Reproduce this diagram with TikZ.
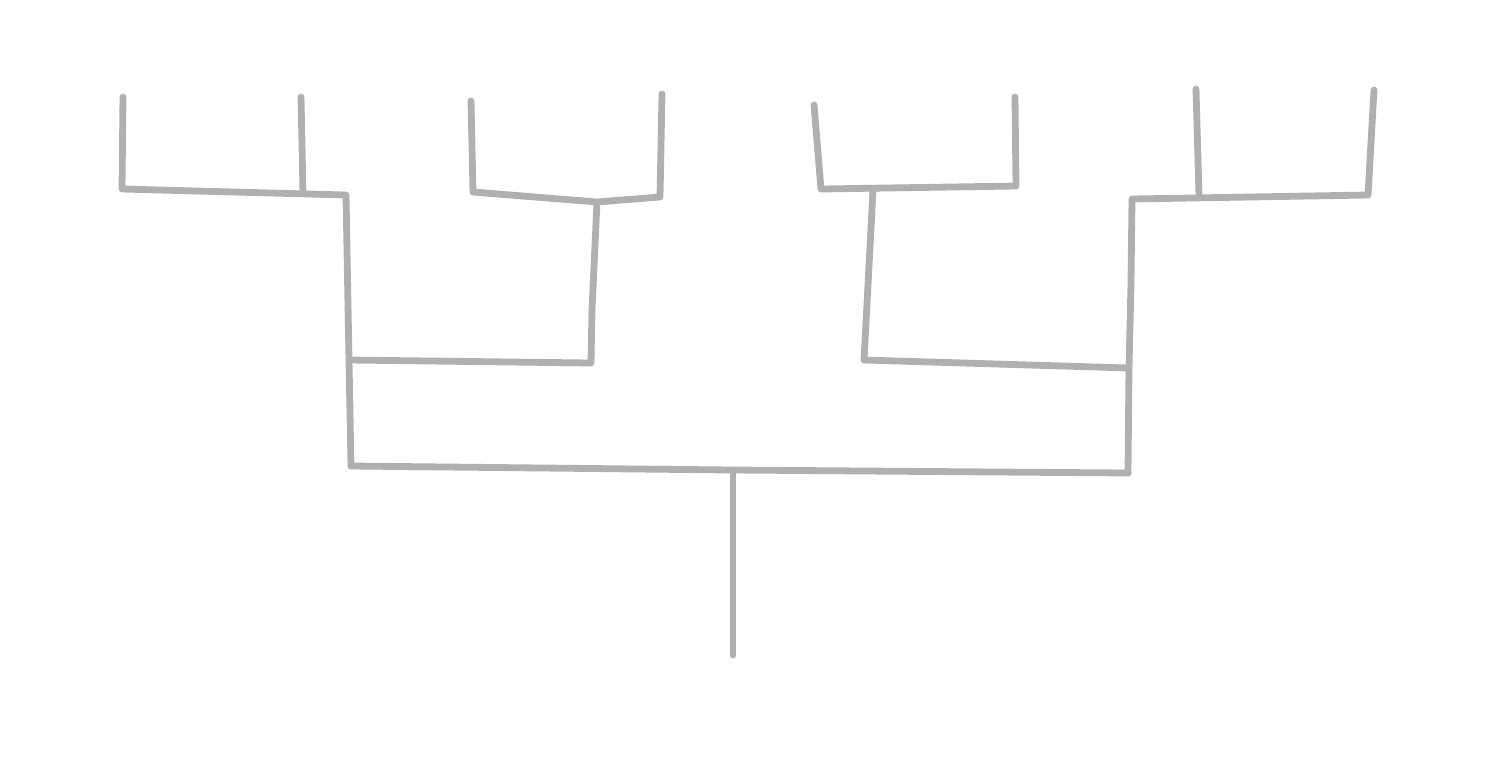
\documentclass[tikz,border=0pt]{standalone}
\begin{document}
\begin{tikzpicture}[x=0.5pt,y=-0.5pt,
  br/.style={draw=black!31,line width=3.4pt,line cap=round,line join=round}]
\useasboundingbox[fill=white] (0,0) rectangle (1500,768);
% coordinates
\coordinate (l1) at (123,97);   \coordinate (b1) at (122,189);
\coordinate (l2) at (301,97);   \coordinate (b2) at (303,193);
\coordinate (j1) at (346,195);
\coordinate (m1) at (349,360);  \coordinate (r1) at (351,466);
\coordinate (l3) at (471,101);  \coordinate (b3) at (473,192);
\coordinate (j2) at (597,202);
\coordinate (l4) at (662,94);   \coordinate (b4) at (660,197);
\coordinate (k2) at (592,310);  \coordinate (m2) at (591,363);
\coordinate (c) at (733,470);   \coordinate (root) at (733,655);
\coordinate (l5) at (814,105);  \coordinate (b5) at (821,189);
\coordinate (l6) at (1015,97);  \coordinate (b6) at (1016,186);
\coordinate (j3) at (873,190);  \coordinate (k3) at (868,285);
\coordinate (m3) at (864,360);
\coordinate (l7) at (1196,89);  \coordinate (b7) at (1199,196);
\coordinate (l8) at (1374,90);  \coordinate (b8) at (1368,195);
\coordinate (j4) at (1132,199); \coordinate (k4) at (1131,283);
\coordinate (m4) at (1129,368); \coordinate (r2) at (1128,473);
% left subtree
\draw[br] (l1) -- (b1) -- (j1) -- (m1) -- (r1);
\draw[br] (l2) -- (b2);
\draw[br] (l3) -- (b3) -- (j2) -- (b4) -- (l4);
\draw[br] (j2) -- (k2) -- (m2) -- (m1);
% right subtree
\draw[br] (l5) -- (b5) -- (b6) -- (l6);
\draw[br] (j3) -- (k3) -- (m3) -- (m4);
\draw[br] (l7) -- (b7);
\draw[br] (l8) -- (b8) -- (j4) -- (k4) -- (m4) -- (r2);
% root
\draw[br] (r1) -- (c) -- (r2);
\draw[br] (c) -- (root);
\end{tikzpicture}
\end{document}
